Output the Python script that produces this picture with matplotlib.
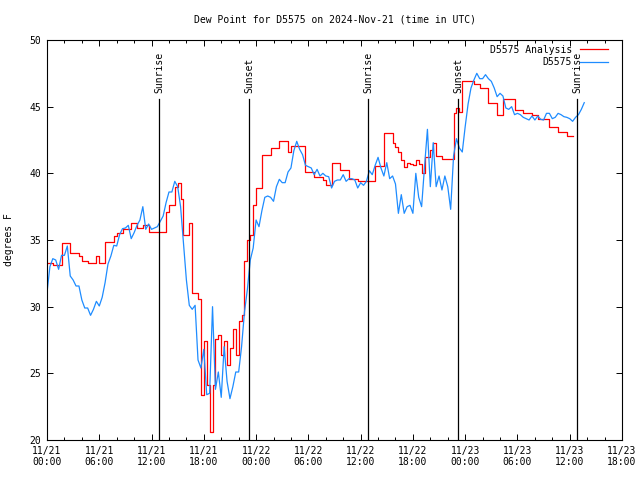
#!/usr/bin/env python
# -*- coding: utf-8 -*-
"""dew point for D5575, gnuplot look-alike"""

import matplotlib
matplotlib.use('Agg')
import matplotlib.pyplot as plt
import matplotlib.dates as mdates
import pandas as pd

# data (20 minute steps from 2024-11-21 00:00 UTC)
start = '2024-11-21 00:00'
step = '20min'

analysis = [
    33.3, 33.3, 33.1, 33.1, 33.1, 34.75, 34.75, 34.75, 34.0, 34.0,
    34.0, 33.8, 33.4, 33.4, 33.25, 33.25, 33.25, 33.8, 33.25, 33.25,
    34.85, 34.85, 34.85, 35.3, 35.55, 35.55, 35.85, 35.85, 35.85, 36.3,
    36.3, 35.9, 35.9, 36.1, 36.1, 35.6, 35.6, 35.6, 35.6, 35.6,
    35.6, 37.1, 37.6, 37.6, 39.0, 39.25, 38.1, 35.4, 35.4, 36.25,
    31.0, 31.0, 30.6, 23.4, 27.4, 24.1, 20.6, 24.1, 27.6, 27.9,
    26.4, 27.4, 25.6, 26.9, 28.3, 26.4, 28.9, 29.4, 33.4, 35.0,
    35.4, 37.6, 38.9, 38.9, 41.4, 41.4, 41.4, 41.9, 41.9, 41.9,
    42.4, 42.4, 42.4, 41.6, 42.05, 42.05, 42.05, 42.05, 42.05, 40.1,
    40.1, 40.1, 39.75, 39.75, 39.75, 39.5, 39.1, 39.1, 40.75, 40.75,
    40.75, 40.25, 40.25, 40.25, 39.6, 39.6, 39.6, 39.4, 39.4, 39.4,
    39.4, 39.4, 39.4, 40.55, 40.55, 40.55, 43.05, 43.05, 43.05, 42.3,
    42.0, 41.6, 41.0, 40.5, 40.75, 40.7, 40.6, 41.0, 40.7, 40.0,
    41.25, 41.25, 41.75, 42.25, 41.3, 41.3, 41.1, 41.05, 41.05, 41.05,
    44.55, 44.9, 44.6, 46.9, 46.9, 46.9, 46.9, 46.7, 46.7, 46.4,
    46.4, 46.4, 45.3, 45.3, 45.3, 44.4, 44.4, 45.6, 45.6, 45.6,
    45.6, 44.75, 44.75, 44.75, 44.5, 44.5, 44.5, 44.4, 44.4, 44.05,
    44.05, 44.05, 44.05, 43.5, 43.5, 43.5, 43.1, 43.1, 43.1, 42.8,
    42.8, 42.8,
]

observed = [
    31.05, 33.0, 33.6, 33.5, 32.8, 33.85, 33.85, 34.55, 32.3, 32.0,
    31.55, 31.55, 30.5, 29.9, 29.9, 29.35, 29.8, 30.4, 30.05, 30.7,
    31.8, 33.2, 33.8, 34.6, 34.55, 35.4, 35.85, 35.9, 36.1, 35.1,
    35.55, 36.1, 36.5, 37.5, 35.8, 36.2, 35.8, 35.9, 36.0, 36.4,
    36.8, 37.8, 38.6, 38.6, 39.4, 39.0, 37.5, 34.8, 32.0, 30.1,
    29.8, 30.1, 26.0, 25.4, 26.8, 23.4, 23.5, 30.0, 23.8, 25.1,
    23.2, 27.0, 24.4, 23.1, 24.0, 25.1, 25.1, 27.0, 29.6, 31.3,
    33.5, 34.4, 36.5, 36.0, 37.2, 38.2, 38.3, 38.2, 37.9, 39.0,
    39.55, 39.3, 39.3, 40.1, 40.4, 41.7, 42.4, 41.8, 41.4, 40.6,
    40.5, 40.4, 39.9, 40.3, 39.8, 40.0, 39.8, 39.75, 38.9, 39.4,
    39.5, 39.5, 39.9, 39.4, 39.6, 39.6, 39.5, 38.9, 39.3, 39.1,
    39.4, 40.2, 39.9, 40.6, 41.2, 40.4, 39.8, 40.8, 39.6, 39.8,
    39.2, 37.0, 38.4, 37.0, 37.5, 37.6, 37.0, 40.0, 38.2, 37.5,
    40.5, 43.3, 39.0, 42.3, 39.0, 39.8, 38.75, 39.8, 39.0, 37.3,
    41.3, 42.6, 41.9, 41.6, 43.5, 45.2, 46.4, 47.0, 47.5, 47.1,
    47.1, 47.4, 47.1, 46.9, 46.4, 45.75, 46.0, 45.8, 44.9, 44.8,
    45.0, 44.4, 44.5, 44.4, 44.2, 44.1, 44.0, 44.3, 44.0, 44.3,
    44.05, 44.0, 44.5, 44.5, 44.1, 44.2, 44.5, 44.4, 44.25, 44.2,
    44.1, 43.9, 44.2, 44.4, 44.8, 45.3,
]

sun_times = ['2024-11-21 12:52', '2024-11-21 23:13', '2024-11-22 12:53',
             '2024-11-22 23:13', '2024-11-23 12:50']
sun_labels = ['Sunrise', 'Sunset', 'Sunrise', 'Sunset', 'Sunrise']

t_analysis = pd.date_range(start, periods=len(analysis), freq=step)
t_observed = pd.date_range(start, periods=len(observed), freq=step)

plt.rcParams['font.family'] = ['DejaVu Sans Mono']
plt.rcParams['font.size'] = 7

fig = plt.figure(figsize=(6.4, 4.8), dpi=100)
ax = fig.add_axes([47 / 640, 40 / 480, 575 / 640, 400 / 480])

ax.plot(t_analysis, analysis, color='red', lw=0.9, drawstyle='steps-post',
        label='D5575 Analysis')
ax.plot(t_observed, observed, color='#1E8CFF', lw=0.9, label='D5575')

# sunrise / sunset markers
for t, lab in zip(sun_times, sun_labels):
    t = pd.Timestamp(t)
    ax.plot([t, t], [20, 45.6], color='black', lw=0.9)
    ax.text(t, 46.05, lab, rotation=90, ha='center', va='bottom')

ax.set_xlim(pd.Timestamp('2024-11-21 00:00'), pd.Timestamp('2024-11-23 18:00'))
ax.set_ylim(20, 50)
ax.set_yticks(range(20, 51, 5))
ax.xaxis.set_major_locator(mdates.HourLocator(byhour=[0, 6, 12, 18]))
ax.xaxis.set_minor_locator(mdates.HourLocator(interval=2))
ax.xaxis.set_major_formatter(mdates.DateFormatter('%m/%d\n%H:%M'))
ax.tick_params(which='both', direction='in', top=True, right=True, width=0.7)
ax.tick_params(which='major', length=4.5, pad=4)
ax.tick_params(which='minor', length=2.3)
for s in ax.spines.values():
    s.set_linewidth(0.8)

ax.set_title('Dew Point for D5575 on 2024-Nov-21 (time in UTC)',
             fontsize=7, pad=12.5)
ax.set_ylabel('degrees F')
ax.yaxis.set_label_coords(-0.058, 0.5)

ax.legend(loc='upper right', bbox_to_anchor=(1 - 9 / 575, 1), frameon=False,
          markerfirst=False, handlelength=2.9, handletextpad=0.8,
          labelspacing=0.25, borderaxespad=0.2, borderpad=0.3)

fig.savefig('out.png', dpi=100)
